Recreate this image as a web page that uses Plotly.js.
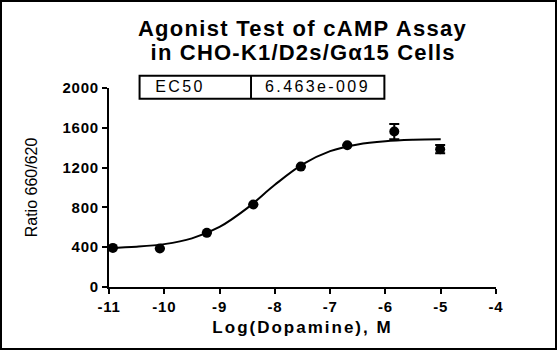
<!DOCTYPE html>
<html>
<head>
<meta charset="utf-8">
<script src="https://cdn.plot.ly/plotly-3.0.1.min.js"></script>
<style>
  html, body { margin: 0; padding: 0; background: #fff; }
  #wrap { position: relative; width: 557px; height: 351px; }
  #chart { width: 557px; height: 351px; }
  #frame { position: absolute; left: 0; top: 0; width: 557px; height: 350px; box-sizing: border-box;
           border: 2px solid #000; pointer-events: none; }
  .xtitle { letter-spacing: 2px; }
  .gtitle { letter-spacing: 1.3px; }
  .xtick text, .ytick text { letter-spacing: 0.8px; }
</style>
</head>
<body>
<div id="wrap">
  <div id="chart"></div>
  <div id="frame"></div>
</div>
<script>
// ---- data ----
const titleLines = ["Agonist Test of cAMP Assay", "in CHO-K1/D2s/G\u03b115 Cells"];
const xTitle = "Log(Dopamine), M";
const yTitle = "Ratio 660/620";
const tableCells = ["EC50", "6.463e-009"];

const logDose = [-10.93, -10.08, -9.23, -8.39, -7.53, -6.69, -5.84, -5.01];
const ratio   = [393, 387, 544, 830, 1210, 1425, 1562, 1385];
const ratioErr = [0, 0, 0, 0, 0, 0, 76, 42];

// fitted curve
const curveX = [-11, -10.5, -10, -9.5, -9, -8.5, -8, -7.5, -7, -6.5, -6, -5.5, -5];
const curveY = [393, 405, 431, 489, 604, 793, 1027, 1232, 1365, 1433, 1465, 1479, 1484];

const xTicks = [-11, -10, -9, -8, -7, -6, -5, -4];
const yTicks = [0, 400, 800, 1200, 1600, 2000];

// ---- drawing ----
const FONT = "Arial, 'Liberation Sans', Helvetica, sans-serif";

const traces = [
  {
    x: curveX, y: curveY, type: "scatter", mode: "lines",
    line: { color: "#000", width: 2, shape: "spline", smoothing: 1 },
    hoverinfo: "skip", showlegend: false, cliponaxis: false
  },
  {
    x: logDose, y: ratio, type: "scatter", mode: "markers",
    marker: { color: "#000", size: 10, symbol: "circle" },
    error_y: { type: "data", array: ratioErr, visible: true, color: "#000", thickness: 2, width: 5 },
    showlegend: false, cliponaxis: false
  }
];

const axisCommon = {
  showline: true, linecolor: "#000", linewidth: 2,
  ticks: "outside", ticklen: 5, tickwidth: 2, tickcolor: "#000",
  showgrid: false, zeroline: false,
  tickfont: { family: FONT, size: 15, color: "#000", weight: "bold" }
};

const layout = {
  width: 557, height: 351,
  margin: { l: 109, r: 61, t: 88, b: 64 },
  paper_bgcolor: "#fff", plot_bgcolor: "#fff",
  showlegend: false,
  title: {
    text: titleLines[0],
    font: { family: FONT, size: 22, color: "#000", weight: "bold" },
    xref: "paper", x: 0.5, xanchor: "center",
    yref: "container", y: 0.918, yanchor: "middle"
  },
  xaxis: Object.assign({}, axisCommon, {
    range: [-11, -4], tickmode: "array", tickvals: xTicks, ticktext: xTicks.map(String),
    title: { text: xTitle, font: { family: FONT, size: 17, color: "#000", weight: "bold" }, standoff: 7 }
  }),
  yaxis: Object.assign({}, axisCommon, {
    range: [0, 2000], tickmode: "array", tickvals: yTicks, ticktext: yTicks.map(String),
    title: { text: yTitle, font: { family: FONT, size: 16, color: "#000" }, standoff: 21 }
  }),
  shapes: [
    { type: "rect", xref: "paper", yref: "paper", x0: 0.079, x1: 0.7116, y0: 0.9457, y1: 1.0618,
      line: { color: "#000", width: 2 }, fillcolor: "rgba(0,0,0,0)", layer: "above" },
    { type: "line", xref: "paper", yref: "paper", x0: 0.367, x1: 0.367, y0: 0.9457, y1: 1.0618,
      line: { color: "#000", width: 2 }, layer: "above" }
  ],
  annotations: [
    { text: titleLines[1], xref: "paper", yref: "paper", x: 0.5, y: 1.180,
      xanchor: "center", yanchor: "middle", showarrow: false,
      font: { family: FONT, size: 22, color: "#000", weight: "bold" } },
    { text: tableCells[0], xref: "paper", yref: "paper", x: 0.1835, y: 1.0055,
      xanchor: "center", yanchor: "middle", showarrow: false,
      font: { family: FONT, size: 16, color: "#000" } },
    { text: tableCells[1], xref: "paper", yref: "paper", x: 0.540, y: 1.0055,
      xanchor: "center", yanchor: "middle", showarrow: false,
      font: { family: FONT, size: 16, color: "#000" } }
  ]
};

Plotly.newPlot("chart", traces, layout, { staticPlot: true, displayModeBar: false }).then(function (gd) {
  gd.querySelectorAll(".annotation-text").forEach(function (t) {
    const s = t.textContent;
    if (s === titleLines[1]) t.style.letterSpacing = "1.2px";
    else if (tableCells.indexOf(s) >= 0) t.style.letterSpacing = "2.4px";
  });
});
</script>
</body>
</html>
